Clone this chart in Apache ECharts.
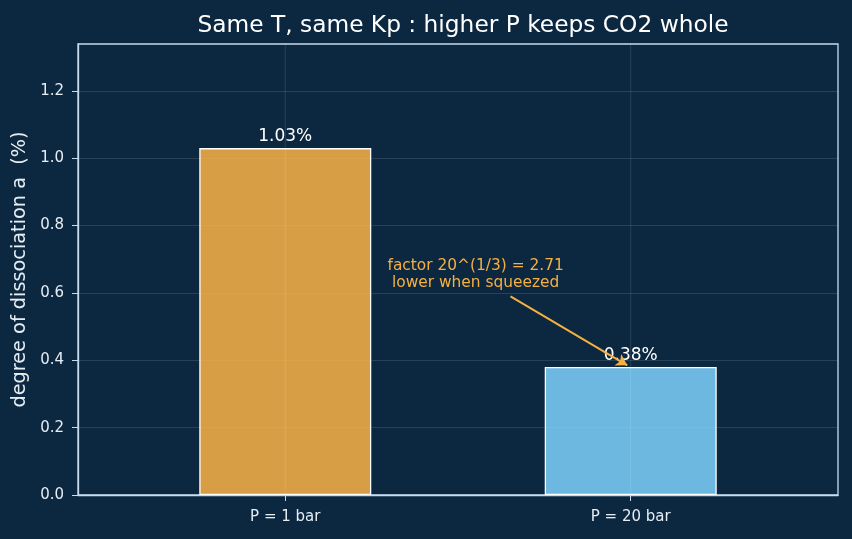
<!DOCTYPE html>
<html><head><meta charset="utf-8">
<script src="https://cdn.jsdelivr.net/npm/echarts@6/dist/echarts.min.js"></script>
<style>html,body{margin:0;padding:0;background:#0c2841;}#c{width:852px;height:539px;}</style>
</head><body><div id="c"></div>
<script>
const categories = ["P = 1 bar", "P = 20 bar"];
const values = [1.03, 0.38];
const barColors = ["rgba(249,178,70,0.86)", "rgba(125,208,252,0.86)"];
const yTicks = [0, 0.2, 0.4, 0.6, 0.8, 1.0, 1.2];
const annotationText = "factor 20^(1/3) = 2.71\nlower when squeezed";
const arrowFrom = [0.652, 0.59];
const arrowTo = [0.99, 0.385];
const textAt = [0.551, 0.656];

const chart = echarts.init(document.getElementById('c'));
const font = 'DejaVu Sans';
chart.setOption({
  backgroundColor: '#0c2841',
  animation: false,
  title: {
    text: 'Same T, same Kp : higher P keeps CO2 whole',
    left: 458, top: 9, textAlign: 'center',
    textStyle: {color: '#ffffff', fontFamily: font, fontSize: 23.3, fontWeight: 'normal'}
  },
  grid: {left: 78, right: 14, top: 44, bottom: 44, show: true, borderColor: '#c6dcee', borderWidth: 1.3, backgroundColor: 'transparent'},
  xAxis: {
    type: 'value', min: -0.6, max: 1.6,
    axisLine: {show: true, onZero: false, lineStyle: {color: '#c6dcee', width: 1.3}},
    axisTick: {show: true, customValues: [0, 1], length: 6, lineStyle: {color: '#c6dcee'}},
    axisLabel: {customValues: [0, 1], color: '#e6edf3', fontFamily: font, fontSize: 15, margin: 15,
      formatter: v => categories[Math.round(v)] || ''},
    splitLine: {show: false}
  },
  yAxis: {
    type: 'value', min: 0, max: 1.339,
    name: 'degree of dissociation a  (%)', nameLocation: 'middle', nameGap: 44,
    nameTextStyle: {color: '#e6edf3', fontFamily: font, fontSize: 19.3},
    axisLine: {show: true, onZero: false, lineStyle: {color: '#c6dcee', width: 1.3}},
    axisTick: {show: true, customValues: yTicks, length: 6, lineStyle: {color: '#c6dcee'}},
    axisLabel: {customValues: yTicks, color: '#e6edf3', fontFamily: font, fontSize: 15, margin: 14,
      formatter: v => v.toFixed(1)},
    splitLine: {show: true, lineStyle: {color: 'rgba(255,255,255,0.15)', width: 0.8}}
  },
  series: [
    {
      type: 'bar', barWidth: 172, z: 2,
      data: values.map((v, i) => ({value: [i, v], itemStyle: {color: barColors[i]}})),
      itemStyle: {borderColor: '#ffffff', borderWidth: 1.3},
      label: {show: true, position: 'top', distance: 3, color: '#ffffff', fontFamily: font, fontSize: 17,
        formatter: p => p.value[1].toFixed(2) + '%'},
      markLine: {
        silent: true, symbol: ['none', 'arrow'], symbolSize: [10, 11], label: {show: false},
        lineStyle: {color: '#f5b041', width: 2, type: 'solid'},
        data: [[{coord: arrowFrom}, {coord: arrowTo}]]
      },
      markPoint: {
        silent: true, symbol: 'circle', symbolSize: 0,
        label: {show: true, position: 'inside', color: '#f5b041', fontFamily: font, fontSize: 15.4, lineHeight: 17, align: 'center',
          formatter: annotationText},
        data: [{coord: textAt}]
      }
    },
    {
      type: 'line', silent: true, symbol: 'none', z: 3,
      data: [[0, 0], [0, 1.339]],
      lineStyle: {color: 'rgba(255,255,255,0.15)', width: 0.8}
    },
    {
      type: 'line', silent: true, symbol: 'none', z: 3,
      data: [[1, 0], [1, 1.339]],
      lineStyle: {color: 'rgba(255,255,255,0.15)', width: 0.8}
    }
  ]
});
</script></body></html>
